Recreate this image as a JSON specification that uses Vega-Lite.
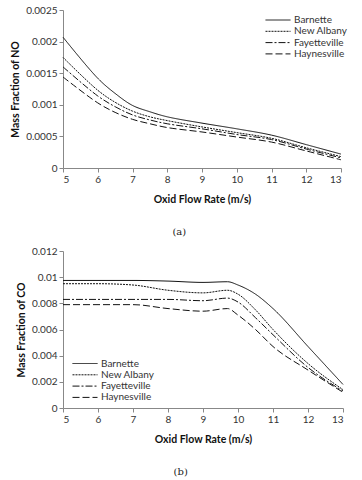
{
  "$schema": "https://vega.github.io/schema/vega-lite/v6.json",
  "background": "white",
  "padding": {"left": 10, "top": 5, "right": 10, "bottom": 5},
  "spacing": 9,
  "config": {
    "font": "Lato",
    "view": {"stroke": null},
    "axis": {"grid": false, "domainColor": "#888", "tickColor": "#888", "tickSize": 4, "labelColor": "#333", "labelFontSize": 10, "titleFontSize": 10.5, "titleFontWeight": "bold", "titleColor": "#111", "labelFont": "Lato", "titleFont": "Lato"},
    "legend": {"labelFontSize": 10, "labelColor": "#333", "symbolType": "stroke", "symbolSize": 625, "symbolStrokeWidth": 1, "symbolStrokeColor": "#111", "rowPadding": 0.3, "clipHeight": 11, "labelOffset": 3, "title": null, "padding": 0},
    "title": {"font": "DejaVu Serif", "fontSize": 10, "fontWeight": "normal", "color": "#222"}
  },
  "datasets": {
    "no": [
      {"s": "Barnette", "x": 5, "y": 0.00207}, {"s": "Barnette", "x": 6, "y": 0.00142}, {"s": "Barnette", "x": 6.5, "y": 0.00118}, {"s": "Barnette", "x": 7, "y": 0.00099}, {"s": "Barnette", "x": 7.5, "y": 0.00089}, {"s": "Barnette", "x": 8, "y": 0.00081}, {"s": "Barnette", "x": 9, "y": 0.00071}, {"s": "Barnette", "x": 10, "y": 0.00062}, {"s": "Barnette", "x": 11, "y": 0.00052}, {"s": "Barnette", "x": 12, "y": 0.00037}, {"s": "Barnette", "x": 13, "y": 0.00022},
      {"s": "New Albany", "x": 5, "y": 0.00175}, {"s": "New Albany", "x": 6, "y": 0.00123}, {"s": "New Albany", "x": 6.5, "y": 0.00104}, {"s": "New Albany", "x": 7, "y": 0.0009}, {"s": "New Albany", "x": 7.5, "y": 0.00081}, {"s": "New Albany", "x": 8, "y": 0.00075}, {"s": "New Albany", "x": 9, "y": 0.00065}, {"s": "New Albany", "x": 10, "y": 0.00056}, {"s": "New Albany", "x": 11, "y": 0.00047}, {"s": "New Albany", "x": 12, "y": 0.00032}, {"s": "New Albany", "x": 13, "y": 0.00018},
      {"s": "Fayetteville", "x": 5, "y": 0.0016}, {"s": "Fayetteville", "x": 6, "y": 0.00114}, {"s": "Fayetteville", "x": 6.5, "y": 0.00097}, {"s": "Fayetteville", "x": 7, "y": 0.00084}, {"s": "Fayetteville", "x": 7.5, "y": 0.00076}, {"s": "Fayetteville", "x": 8, "y": 0.0007}, {"s": "Fayetteville", "x": 9, "y": 0.00062}, {"s": "Fayetteville", "x": 10, "y": 0.00053}, {"s": "Fayetteville", "x": 11, "y": 0.00045}, {"s": "Fayetteville", "x": 12, "y": 0.0003}, {"s": "Fayetteville", "x": 13, "y": 0.00016},
      {"s": "Haynesville", "x": 5, "y": 0.00144}, {"s": "Haynesville", "x": 6, "y": 0.00103}, {"s": "Haynesville", "x": 6.5, "y": 0.00088}, {"s": "Haynesville", "x": 7, "y": 0.00077}, {"s": "Haynesville", "x": 7.5, "y": 0.0007}, {"s": "Haynesville", "x": 8, "y": 0.00064}, {"s": "Haynesville", "x": 9, "y": 0.00057}, {"s": "Haynesville", "x": 10, "y": 0.00049}, {"s": "Haynesville", "x": 11, "y": 0.00041}, {"s": "Haynesville", "x": 12, "y": 0.00027}, {"s": "Haynesville", "x": 13, "y": 0.00013}
    ],
    "co": [
      {"s": "Barnette", "x": 5, "y": 0.00975}, {"s": "Barnette", "x": 6, "y": 0.00975}, {"s": "Barnette", "x": 7, "y": 0.00975}, {"s": "Barnette", "x": 8, "y": 0.0097}, {"s": "Barnette", "x": 9, "y": 0.0096}, {"s": "Barnette", "x": 9.7, "y": 0.00965}, {"s": "Barnette", "x": 10, "y": 0.0094}, {"s": "Barnette", "x": 10.5, "y": 0.0087}, {"s": "Barnette", "x": 11, "y": 0.0076}, {"s": "Barnette", "x": 12, "y": 0.0047}, {"s": "Barnette", "x": 13, "y": 0.0018},
      {"s": "New Albany", "x": 5, "y": 0.0095}, {"s": "New Albany", "x": 6, "y": 0.0095}, {"s": "New Albany", "x": 7, "y": 0.0094}, {"s": "New Albany", "x": 8, "y": 0.009}, {"s": "New Albany", "x": 9, "y": 0.0088}, {"s": "New Albany", "x": 9.7, "y": 0.009}, {"s": "New Albany", "x": 10, "y": 0.0087}, {"s": "New Albany", "x": 10.5, "y": 0.0075}, {"s": "New Albany", "x": 11, "y": 0.006}, {"s": "New Albany", "x": 12, "y": 0.0034}, {"s": "New Albany", "x": 13, "y": 0.0014},
      {"s": "Fayetteville", "x": 5, "y": 0.0083}, {"s": "Fayetteville", "x": 6, "y": 0.0083}, {"s": "Fayetteville", "x": 7, "y": 0.0083}, {"s": "Fayetteville", "x": 8, "y": 0.0083}, {"s": "Fayetteville", "x": 9, "y": 0.0082}, {"s": "Fayetteville", "x": 9.7, "y": 0.0084}, {"s": "Fayetteville", "x": 10, "y": 0.0081}, {"s": "Fayetteville", "x": 10.5, "y": 0.0069}, {"s": "Fayetteville", "x": 11, "y": 0.0056}, {"s": "Fayetteville", "x": 12, "y": 0.0031}, {"s": "Fayetteville", "x": 13, "y": 0.0013},
      {"s": "Haynesville", "x": 5, "y": 0.0079}, {"s": "Haynesville", "x": 6, "y": 0.0079}, {"s": "Haynesville", "x": 7, "y": 0.0079}, {"s": "Haynesville", "x": 8, "y": 0.0076}, {"s": "Haynesville", "x": 9, "y": 0.0074}, {"s": "Haynesville", "x": 9.7, "y": 0.0076}, {"s": "Haynesville", "x": 10, "y": 0.0071}, {"s": "Haynesville", "x": 10.5, "y": 0.006}, {"s": "Haynesville", "x": 11, "y": 0.0047}, {"s": "Haynesville", "x": 12, "y": 0.0029}, {"s": "Haynesville", "x": 13, "y": 0.0012}
    ]
  },
  "vconcat": [
    {
      "width": 278,
      "height": 158,
      "data": {"name": "no"},
      "title": {"text": "(a)", "orient": "bottom", "frame": "bounds", "anchor": "middle", "offset": 22},
      "mark": {"type": "line", "interpolate": "catmull-rom", "strokeWidth": 1, "color": "#111"},
      "encoding": {
        "x": {"field": "x", "type": "quantitative", "scale": {"domain": [5, 13], "nice": false}, "axis": {"values": [5, 6, 7, 8, 9, 10, 11, 12, 13], "title": "Oxid Flow Rate (m/s)", "titlePadding": 10}},
        "y": {"field": "y", "type": "quantitative", "scale": {"domain": [0, 0.0025], "nice": false}, "axis": {"values": [0, 0.0005, 0.001, 0.0015, 0.002, 0.0025], "format": "~g", "title": "Mass Fraction of NO", "titlePadding": 5}},
        "strokeDash": {"field": "s", "type": "nominal", "scale": {"domain": ["Barnette", "New Albany", "Fayetteville", "Haynesville"], "range": [[1, 0], [2, 1], [7, 2, 2, 2], [7, 3]]}, "legend": {"orient": "none", "legendX": 202, "legendY": 4.5}}
      }
    },
    {
      "width": 280,
      "height": 157,
      "data": {"name": "co"},
      "title": {"text": "(b)", "orient": "bottom", "frame": "bounds", "anchor": "middle", "offset": 22},
      "mark": {"type": "line", "interpolate": "monotone", "strokeWidth": 1, "color": "#111"},
      "encoding": {
        "x": {"field": "x", "type": "quantitative", "scale": {"domain": [5, 13], "nice": false}, "axis": {"values": [5, 6, 7, 8, 9, 10, 11, 12, 13], "title": "Oxid Flow Rate (m/s)", "titlePadding": 10}},
        "y": {"field": "y", "type": "quantitative", "scale": {"domain": [0, 0.012], "nice": false}, "axis": {"values": [0, 0.002, 0.004, 0.006, 0.008, 0.01, 0.012], "format": "~g", "title": "Mass Fraction of CO", "titlePadding": 5}},
        "strokeDash": {"field": "s", "type": "nominal", "scale": {"domain": ["Barnette", "New Albany", "Fayetteville", "Haynesville"], "range": [[1, 0], [2, 1], [7, 2, 2, 2], [7, 3]]}, "legend": {"orient": "none", "legendX": 9, "legendY": 107}}
      }
    }
  ],
  "resolve": {"scale": {"strokeDash": "independent"}, "legend": {"strokeDash": "independent"}}
}
